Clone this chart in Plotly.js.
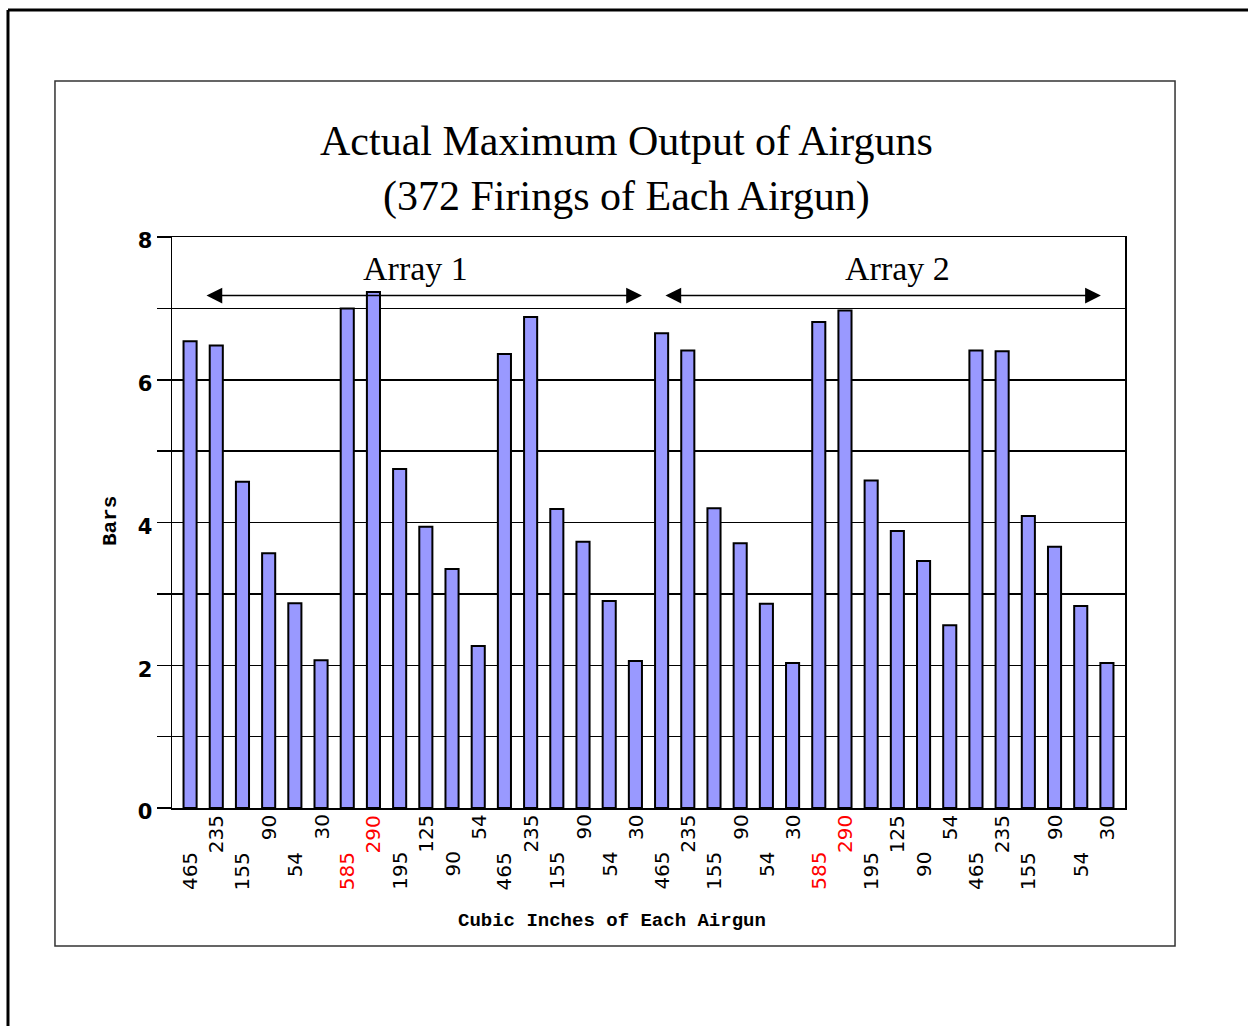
<!DOCTYPE html>
<html>
<head>
<meta charset="utf-8">
<script src="https://cdn.plot.ly/plotly-3.0.1.min.js"></script>
<style>
html,body{margin:0;padding:0;background:#fff;}
#chart{width:1248px;height:1026px;}
</style>
</head>
<body>
<div id="chart"></div>
<script>
// Cubic-inch labels of each airgun (Array 1 then Array 2)
var tickLabels = [
  "465","235","155","90","54","30","585","290","195","125","90","54","465","235","155","90","54","30",
  "465","235","155","90","54","30","585","290","195","125","90","54","465","235","155","90","54","30"
];
// Actual maximum output (bars)
var outputBars = [
  6.54, 6.48, 4.57, 3.57, 2.87, 2.07, 7.00, 7.23, 4.75, 3.94, 3.35, 2.27, 6.36, 6.88, 4.19, 3.73, 2.90, 2.06,
  6.65, 6.41, 4.20, 3.71, 2.86, 2.03, 6.81, 6.97, 4.59, 3.88, 3.46, 2.56, 6.41, 6.40, 4.09, 3.66, 2.83, 2.03
];
var highlighted = ["585", "290"];
var arrayNames = ["Array 1", "Array 2"];
var yTickVals = [0,1,2,3,4,5,6,7,8];
var yTickText = ["0","","2","","4","","6","","8"];

var xIdx = tickLabels.map(function(_, i){ return i; });

var trace = {
  type: "bar",
  x: xIdx,
  y: outputBars,
  width: 0.5,
  marker: {color: "#9999FF", line: {color: "#000000", width: 2}},
  hoverinfo: "y"
};

var annotations = [];
tickLabels.forEach(function(lab, i){
  var upper = (i % 2 === 1);
  annotations.push({
    x: i, xref: "x", y: 0, yref: "paper",
    text: lab, showarrow: false, textangle: -90,
    xanchor: "center", yanchor: "top",
    yshift: upper ? -6 : -43,
    font: {family: "DejaVu Sans", size: 20, color: highlighted.indexOf(lab) >= 0 ? "#FF0000" : "#000000"},
    borderpad: 0
  });
});

// Title
annotations.push({
  x: 0.4774, xref: "paper", y: 1.119, yref: "paper",
  xanchor: "center", yanchor: "middle", showarrow: false,
  text: "Actual Maximum Output of Airguns<br>(372 Firings of Each Airgun)",
  font: {family: "Liberation Serif", size: 42, color: "#000"}
});
// Array labels
annotations.push({x: 8.6, xref: "x", y: 7.56, yref: "y", text: arrayNames[0], showarrow: false,
  font: {family: "Liberation Serif", size: 34, color: "#000"}, xanchor: "center", yanchor: "middle"});
annotations.push({x: 27.0, xref: "x", y: 7.56, yref: "y", text: arrayNames[1], showarrow: false,
  font: {family: "Liberation Serif", size: 34, color: "#000"}, xanchor: "center", yanchor: "middle"});
// Double arrows
[[0.57, 17.25], [18.09, 34.77]].forEach(function(r){
  annotations.push({
    x: r[1], y: 7.18, xref: "x", yref: "y",
    ax: r[0], ay: 7.18, axref: "x", ayref: "y",
    text: "", showarrow: true, arrowside: "end+start",
    arrowhead: 2, arrowsize: 2.1, arrowwidth: 1.5, arrowcolor: "#000",
    standoff: 0, startstandoff: 0
  });
});
// Axis titles
annotations.push({x: -0.065, xref: "paper", y: 0.5026, yref: "paper", text: "<b>Bars</b>",
  textangle: -90, showarrow: false, xanchor: "center", yanchor: "middle",
  font: {family: "Liberation Mono", size: 21, color: "#000"}});
annotations.push({x: 0.4617, xref: "paper", y: -0.198, yref: "paper", text: "<b>Cubic Inches of Each Airgun</b>",
  showarrow: false, xanchor: "center", yanchor: "middle",
  font: {family: "Liberation Mono", size: 19, color: "#000"}});

var shapes = [
  // page border (top and left)
  {type: "line", xref: "paper", yref: "paper", x0: -0.1721, x1: 1.1312, y0: 1.3975, y1: 1.3975, line: {color: "#000", width: 3}},
  {type: "line", xref: "paper", yref: "paper", x0: -0.1721, x1: -0.1721, y0: 1.3975, y1: -0.3818, line: {color: "#000", width: 3}},
  // chart frame
  {type: "rect", xref: "paper", yref: "paper", x0: -0.1228, x1: 1.0525, y0: 1.2732, y1: -0.2417, line: {color: "#333", width: 1.5}}
];

var layout = {
  width: 1248, height: 1026,
  margin: {l: 172, r: 123, t: 237, b: 218},
  paper_bgcolor: "#fff", plot_bgcolor: "#fff",
  showlegend: false,
  bargap: 0.5,
  xaxis: {
    range: [-0.69, 35.69], showticklabels: false, ticks: "", showgrid: false,
    showline: true, linecolor: "#000", linewidth: 1.5, mirror: true, zeroline: false, fixedrange: true
  },
  yaxis: {
    range: [0, 8], tickvals: yTickVals, ticktext: yTickText,
    ticks: "outside", ticklen: 14, tickwidth: 1.5, tickcolor: "#000",
    showgrid: true, gridcolor: "#000", gridwidth: 1.5,
    showline: true, linecolor: "#000", linewidth: 1.5, mirror: true, zeroline: false,
    ticklabelshift: 4,
    tickfont: {family: "DejaVu Sans", size: 21, color: "#000", weight: "bold"}, fixedrange: true
  },
  annotations: annotations,
  shapes: shapes
};

Plotly.newPlot("chart", [trace], layout, {displayModeBar: false, staticPlot: true});
</script>
</body>
</html>
